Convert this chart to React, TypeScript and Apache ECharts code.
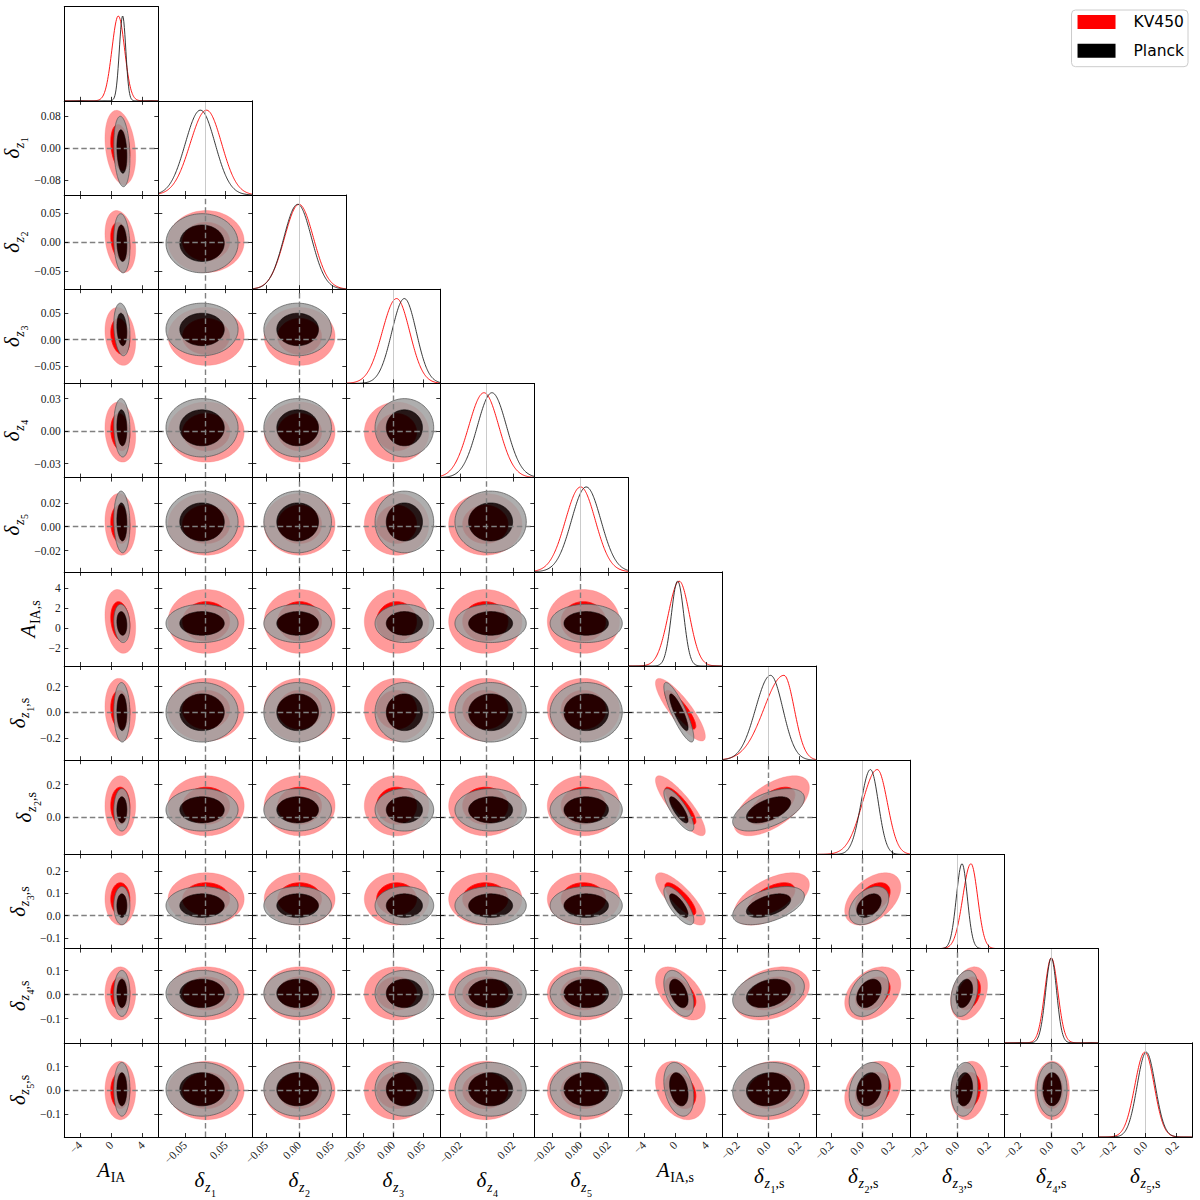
import React, { useEffect, useRef } from "react";
import * as echarts from "echarts";

// ---------------- parameters (order of the triangle) ----------------
const paramMain = ["A", "δ", "δ", "δ", "δ", "δ", "A", "δ", "δ", "δ", "δ", "δ"];
const paramSub = ["IA", "z", "z", "z", "z", "z", "IA,s", "z", "z", "z", "z", "z"];
const paramSubSub = ["", "1", "2", "3", "4", "5", "", "1", "2", "3", "4", "5"];
const paramTail = ["", "", "", "", "", "", "", ",s", ",s", ",s", ",s", ",s"];

// axis ranges (x = column use, y = row use)
const xMin = [-6, -0.115, -0.071, -0.078, -0.035, -0.033, -6, -0.3, -0.3, -0.3, -0.3, -0.3];
const xMax = [6, 0.115, 0.072, 0.079, 0.036, 0.034, 6, 0.31, 0.316, 0.3, 0.3, 0.3];
const yMin = [0, -0.117, -0.082, -0.0815, -0.043, -0.0376, -3.8, -0.375, -0.228, -0.148, -0.2, -0.195];
const yMax = [1, 0.119, 0.082, 0.094, 0.044, 0.041, 5.6, 0.362, 0.349, 0.275, 0.191, 0.2];

// tick values
const xTicks = [
  [-4, 0, 4], [-0.05, 0.05], [-0.05, 0, 0.05], [-0.05, 0, 0.05], [-0.02, 0.02], [-0.02, 0, 0.02],
  [-4, 0, 4], [-0.2, 0, 0.2], [-0.2, 0, 0.2], [-0.2, 0, 0.2], [-0.2, 0, 0.2], [-0.2, 0, 0.2],
];
const yTicks = [
  [], [-0.08, 0, 0.08], [-0.05, 0, 0.05], [-0.05, 0, 0.05], [-0.03, 0, 0.03], [-0.02, 0, 0.02],
  [-2, 0, 2, 4], [-0.2, 0, 0.2], [0, 0.2], [-0.1, 0, 0.1, 0.2], [-0.1, 0, 0.1], [-0.1, 0, 0.1],
];
const tickDecimals = [0, 2, 2, 2, 2, 2, 0, 1, 1, 1, 1, 1];
// reference (fiducial) value markers, null = none
const markers = [null, 0, 0, 0, 0, 0, null, 0, 0, 0, 0, 0];

// ---------------- KV450 posterior summaries ----------------
const kvMean = [1.15, 0.002, 0.001, 0.006, -0.001, 0.002, 0.65, 0.02, 0.07, 0.075, 0.005, 0.0];
const kvSigma = [0.8, 0.038, 0.022, 0.022, 0.0113, 0.0105, 1.3, 0.1, 0.075, 0.048, 0.045, 0.05];
const kvPeak = [0.9, 0.003, 0.0, 0.006, -0.002, 0.0, 0.5, 0.1, 0.1, 0.087, 0.0, -0.003];
const kvSigL = [0.82, 0.04, 0.022, 0.024, 0.0115, 0.0108, 1.4, 0.13, 0.098, 0.052, 0.042, 0.064];
const kvSigR = [0.8, 0.037, 0.022, 0.022, 0.0112, 0.0105, 1.3, 0.067, 0.066, 0.043, 0.042, 0.06];

// ---------------- Planck posterior summaries ----------------
const plMean = [1.35, -0.008, -0.002, 0.019, 0.003, 0.004, 0.45, 0.0, 0.045, 0.045, 0.005, 0.005];
const plSigma = [0.42, 0.036, 0.021, 0.02, 0.011, 0.0105, 0.78, 0.095, 0.053, 0.035, 0.039, 0.046];
const plPeak = [1.45, -0.012, -0.002, 0.019, 0.004, 0.004, 0.3, 0.013, 0.055, 0.03, 0.0, 0.006];
const plSigL = [0.42, 0.037, 0.021, 0.021, 0.011, 0.0105, 0.8, 0.097, 0.062, 0.036, 0.036, 0.058];
const plSigR = [0.4, 0.036, 0.021, 0.02, 0.011, 0.0105, 0.78, 0.08, 0.052, 0.034, 0.034, 0.058];

// correlations: [row param, column param, KV450, Planck]
const correlations = [
  [1, 0, -0.25, -0.2], [2, 0, -0.25, -0.15], [3, 0, -0.2, -0.2], [4, 0, -0.15, -0.1], [5, 0, -0.1, -0.1],
  [6, 0, -0.2, -0.15], [7, 0, -0.1, -0.05],
  [7, 6, -0.85, -0.85], [8, 6, -0.85, -0.8], [9, 6, -0.8, -0.75], [10, 6, -0.5, -0.45], [11, 6, -0.3, -0.3],
  [8, 7, 0.6, 0.55], [9, 7, 0.55, 0.5], [10, 7, 0.3, 0.3], [11, 7, 0.1, 0.1],
  [9, 8, 0.45, 0.4], [10, 8, 0.35, 0.35], [11, 8, 0.25, 0.2],
  [10, 9, 0.3, 0.3], [11, 9, 0.15, 0.1],
];

// ---------------- layout / style ----------------
const N = 12;
const L0 = 64.3;
const T0 = 6.6;
const CW = 94;
const CH = 94.2;
const SERIF = '"Liberation Serif", "Times New Roman", serif';
const TICK_FS = 11.5;
const LEVEL_RADII = [2.45, 1.51]; // 95% and 68% 2D contours in sigma units

function fmt(v: number, dec: number) {
  const s = Math.abs(v).toFixed(dec);
  return (v < -1e-12 ? "\u2212" : "") + s;
}

let measureCtx: any = null;
function measure(text: string, font: string) {
  if (!measureCtx) measureCtx = document.createElement("canvas").getContext("2d");
  measureCtx.font = font;
  return measureCtx.measureText(text).width;
}

function corr(i: number, j: number, which: number) {
  for (const c of correlations) if (c[0] === i && c[1] === j) return c[2 + which];
  return 0;
}

function axisCommon(gridIndex: number, position: string, min: number, max: number) {
  return {
    type: "value",
    gridIndex,
    position,
    min,
    max,
    z: 6,
    axisLine: { show: true, onZero: false, lineStyle: { color: "#000", width: 1 } },
    splitLine: { show: false },
  };
}

function buildLabel(k: number) {
  const isDelta = paramMain[k] === "δ";
  const parts: any[] = [];
  parts.push({ t: paramMain[k], fs: 21, it: true, dy: 0 });
  parts.push({ t: paramSub[k], fs: 14, it: isDelta, dy: 5 });
  if (paramSubSub[k]) parts.push({ t: paramSubSub[k], fs: 10, it: false, dy: 9.2 });
  if (paramTail[k]) parts.push({ t: paramTail[k], fs: 14, it: false, dy: 5 });
  let x = 0;
  let depth = 0;
  const items: any[] = [];
  for (const p of parts) {
    const font = `${p.it ? "italic " : ""}${p.fs}px ${SERIF}`;
    const w = measure(p.t, font);
    items.push({ ...p, x, font });
    x += w + (p.it ? 0.6 : 0);
    depth = Math.max(depth, p.dy + (p.t.indexOf(",") >= 0 ? 0.15 * p.fs : 0));
  }
  const width = x;
  const children = items.map((p) => ({
    type: "text",
    x: p.x - width / 2,
    y: p.dy - 0.34 * p.fs,
    style: { text: p.t, font: p.font, fill: "#000", align: "left", verticalAlign: "middle" },
  }));
  return { children, width, depth };
}

function pathFrom(pts: number[][]) {
  let d = "";
  for (let t = 0; t < pts.length; t++) {
    d += (t === 0 ? "M" : "L") + pts[t][0].toFixed(2) + " " + pts[t][1].toFixed(2) + " ";
  }
  return d + "Z ";
}

// draws the 95% band (annulus between the two levels) and the 68% core, as filled contours do
function ellipseRenderer(mx: number, my: number, sx: number, sy: number, rho: number, styles: any[]) {
  const q = Math.sqrt(Math.max(0, 1 - rho * rho));
  const ring = (api: any, r: number) => {
    const pts: number[][] = [];
    const M = 120;
    for (let t = 0; t < M; t++) {
      const a = (2 * Math.PI * t) / M;
      const u = Math.cos(a);
      const v = Math.sin(a);
      pts.push(api.coord([mx + r * sx * u, my + r * sy * (rho * u + q * v)]));
    }
    return pts;
  };
  return (params: any, api: any) => {
    const k = params.dataIndex;
    let d: string;
    if (k === 0) {
      const outer = ring(api, LEVEL_RADII[0]);
      const inner = ring(api, LEVEL_RADII[1]).reverse();
      d = pathFrom(outer) + pathFrom(inner);
    } else {
      d = pathFrom(ring(api, LEVEL_RADII[1]));
    }
    return { type: "path", shape: { pathData: d }, style: styles[k] };
  };
}

function curve(peak: number, sl: number, sr: number, lo: number, hi: number) {
  const pts: number[][] = [];
  const M = 180;
  for (let t = 0; t <= M; t++) {
    const x = lo + ((hi - lo) * t) / M;
    const s = x < peak ? sl : sr;
    pts.push([x, Math.exp(-0.5 * ((x - peak) / s) ** 2)]);
  }
  return pts;
}

const KV_STYLES = [
  { fill: "#ff9a9a", stroke: "rgba(255,110,110,0.5)", lineWidth: 0.6 },
  { fill: "#ff0000", stroke: "#ff0000", lineWidth: 0.8 },
];
const PL_STYLES = [
  { fill: "rgba(160,160,160,0.85)", stroke: "rgba(85,85,85,0.9)", lineWidth: 0.8 },
  { fill: "rgba(0,0,0,0.85)", stroke: "rgba(0,0,0,0.5)", lineWidth: 0.6 },
];

function buildOption() {
  const grids: any[] = [];
  const xAxes: any[] = [];
  const yAxes: any[] = [];
  const series: any[] = [];
  const graphics: any[] = [];
  const tickFont = `${TICK_FS}px ${SERIF}`;

  let g = 0;
  for (let i = 0; i < N; i++) {
    for (let j = 0; j <= i; j++) {
      const diag = i === j;
      grids.push({ left: L0 + CW * j, top: T0 + CH * i, width: CW, height: CH, show: false });

      const xb = xAxes.length;
      const dec = tickDecimals[j];
      xAxes.push({
        ...axisCommon(g, "bottom", xMin[j], xMax[j]),
        axisTick: { show: true, inside: true, length: 4, customValues: xTicks[j], lineStyle: { color: "#000", width: 0.8 } },
        axisLabel: {
          show: i === N - 1,
          customValues: xTicks[j],
          formatter: (v: number) => fmt(v, dec),
          rotate: 45,
          margin: 6,
          fontFamily: SERIF,
          fontSize: TICK_FS,
          color: "#222",
        },
      });
      xAxes.push({
        ...axisCommon(g, "top", xMin[j], xMax[j]),
        axisTick: { show: !diag, inside: true, length: 4, customValues: xTicks[j], lineStyle: { color: "#000", width: 0.8 } },
        axisLabel: { show: false },
      });

      const yl = yAxes.length;
      if (diag) {
        yAxes.push({ ...axisCommon(g, "left", 0, 1.11), axisTick: { show: false }, axisLabel: { show: false } });
        yAxes.push({ ...axisCommon(g, "right", 0, 1.11), axisTick: { show: false }, axisLabel: { show: false } });
      } else {
        const ydec = tickDecimals[i];
        yAxes.push({
          ...axisCommon(g, "left", yMin[i], yMax[i]),
          axisTick: { show: true, inside: true, length: 4, customValues: yTicks[i], lineStyle: { color: "#000", width: 0.8 } },
          axisLabel: {
            show: j === 0,
            customValues: yTicks[i],
            formatter: (v: number) => fmt(v, ydec),
            margin: 3.5,
            fontFamily: SERIF,
            fontSize: TICK_FS,
            color: "#222",
          },
        });
        yAxes.push({
          ...axisCommon(g, "right", yMin[i], yMax[i]),
          axisTick: { show: true, inside: true, length: 4, customValues: yTicks[i], lineStyle: { color: "#000", width: 0.8 } },
          axisLabel: { show: false },
        });
      }

      if (diag) {
        const mk = markers[i];
        series.push({
          type: "line",
          name: "KV450",
          xAxisIndex: xb,
          yAxisIndex: yl,
          data: curve(kvPeak[i], kvSigL[i], kvSigR[i], xMin[i], xMax[i]),
          symbol: "none",
          silent: true,
          clip: true,
          z: 3,
          lineStyle: { color: "#ff0000", width: 0.9 },
          itemStyle: { color: "#ff0000" },
          markLine:
            mk === null
              ? undefined
              : {
                  silent: true,
                  symbol: ["none", "none"],
                  label: { show: false },
                  lineStyle: { color: "#bdbdbd", type: "solid", width: 0.8 },
                  data: [{ xAxis: mk }],
                },
        });
        series.push({
          type: "line",
          name: "Planck",
          xAxisIndex: xb,
          yAxisIndex: yl,
          data: curve(plPeak[i], plSigL[i], plSigR[i], xMin[i], xMax[i]),
          symbol: "none",
          silent: true,
          clip: true,
          z: 3,
          lineStyle: { color: "#222", width: 0.9 },
          itemStyle: { color: "#000" },
        });
      } else {
        series.push({
          type: "custom",
          name: "KV450",
          xAxisIndex: xb,
          yAxisIndex: yl,
          clip: true,
          silent: true,
          z: 2,
          itemStyle: { color: "#ff0000" },
          data: [[0, 0], [0, 0]],
          renderItem: ellipseRenderer(kvMean[j], kvMean[i], kvSigma[j], kvSigma[i], corr(i, j, 0), KV_STYLES),
        });
        const mlData: any[] = [];
        if (markers[j] !== null) mlData.push({ xAxis: markers[j] });
        if (markers[i] !== null) mlData.push({ yAxis: markers[i] });
        series.push({
          type: "custom",
          name: "Planck",
          xAxisIndex: xb,
          yAxisIndex: yl,
          clip: true,
          silent: true,
          z: 3,
          itemStyle: { color: "#000" },
          data: [[0, 0], [0, 0]],
          renderItem: ellipseRenderer(plMean[j], plMean[i], plSigma[j], plSigma[i], corr(i, j, 1), PL_STYLES),
          markLine: mlData.length
            ? {
                silent: true,
                symbol: ["none", "none"],
                label: { show: false },
                lineStyle: { color: "#808080", type: [5.5, 3], width: 1.4 },
                data: mlData,
              }
            : undefined,
        });
      }
      g++;
    }
  }

  // axis titles
  const bottomY = T0 + CH * N;
  for (let k = 0; k < N; k++) {
    const lab = buildLabel(k);
    const maxXW = Math.max(...xTicks[k].map((v) => measure(fmt(v, tickDecimals[k]), tickFont)));
    const baseY = bottomY + 6 + (maxXW + TICK_FS) * 0.707 + 3 + 14.5;
    graphics.push({ type: "group", x: L0 + CW * k + CW / 2, y: baseY, children: lab.children, silent: true });
    if (k >= 1) {
      const maxYW = Math.max(...yTicks[k].map((v) => measure(fmt(v, tickDecimals[k]), tickFont)));
      const right = L0 - 3.5 - maxYW - 6;
      graphics.push({
        type: "group",
        x: right - lab.depth,
        y: T0 + CH * k + CH / 2,
        rotation: Math.PI / 2,
        children: lab.children.map((c: any) => ({ ...c })),
        silent: true,
      });
    }
  }

  return {
    animation: false,
    backgroundColor: "#ffffff",
    grid: grids,
    xAxis: xAxes,
    yAxis: yAxes,
    series,
    legend: {
      show: true,
      orient: "vertical",
      right: 12,
      top: 10,
      itemWidth: 38,
      itemHeight: 14,
      itemGap: 12.7,
      padding: [4, 4, 8, 6],
      borderColor: "#cccccc",
      borderWidth: 1,
      borderRadius: 4,
      backgroundColor: "#ffffff",
      selectedMode: false,
      textStyle: { fontFamily: '"DejaVu Sans", sans-serif', fontSize: 15.5, color: "#000", padding: [0, 0, 0, 13] },
      data: [
        { name: "KV450", icon: "rect", itemStyle: { color: "#ff0000" } },
        { name: "Planck", icon: "rect", itemStyle: { color: "#000000" } },
      ],
    },
    graphic: { elements: graphics },
  };
}

export default function App() {
  const ref = useRef<HTMLDivElement>(null);
  useEffect(() => {
    const chart = echarts.init(ref.current as HTMLDivElement, null, { renderer: "svg" });
    chart.setOption(buildOption() as any);
    return () => chart.dispose();
  }, []);
  return (
    <div
      ref={ref}
      style={{ position: "absolute", left: 0, top: 0, width: 1200, height: 1200, background: "#fff" }}
    />
  );
}
